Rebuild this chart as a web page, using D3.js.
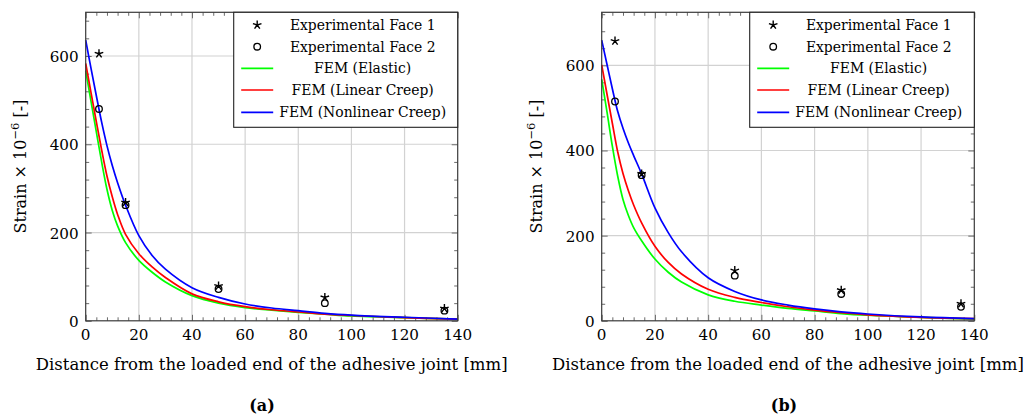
<!DOCTYPE html>
<html>
<head>
<meta charset="utf-8">
<script src="https://cdn.jsdelivr.net/npm/d3@7"></script>
<style>
  body { margin: 0; background: #fff; }
  svg { display: block; }
</style>
</head>
<body>
<div id="chart"></div>
<script>
// distance along joint [mm] for the FEM curves
var femX = [0, 2, 4, 6, 8, 10, 12, 15, 20, 25, 30, 40, 50, 60, 70, 80, 90, 100, 120, 140];

// panel (a)
var aElastic   = [567, 497, 428, 360, 298, 250, 215, 177, 137, 110, 88, 57, 40, 30, 24, 19, 15, 11, 7, 4];
var aLinear    = [583, 517, 451, 387, 328, 281, 241, 196, 152, 122, 98, 61, 43, 32, 25, 20, 15, 12, 7, 4];
var aNonlinear = [636, 572, 510, 450, 397, 352, 313, 262, 193, 148, 117, 75, 53, 38, 29, 23, 17, 13, 8, 4];

// panel (b)
var bElastic   = [567, 490, 410, 340, 285, 248, 219, 188, 145, 114, 91, 61, 46, 37, 29, 23, 17, 13, 8, 4];
var bLinear    = [601, 532, 464, 397, 346, 306, 272, 230, 175, 137, 110, 74, 55, 43, 33, 25, 19, 14, 8, 5];
var bNonlinear = [659, 602, 545, 492, 452, 418, 388, 345, 265, 207, 162, 101, 69, 49, 37, 28, 21, 16, 9, 5];

// strain gauge positions and readings
var gaugeX = [5, 15, 50, 90, 135];
var aFace1 = [605, 268, 79, 53, 28];
var aFace2 = [480, 262, 72, 40, 23];
var bFace1 = [657, 345, 118, 72, 40];
var bFace2 = [515, 342, 106, 63, 33];

var xTicks = [0, 20, 40, 60, 80, 100, 120, 140];
var yTicks = [0, 200, 400, 600];
var legendLabels = ["Experimental Face 1", "Experimental Face 2", "FEM (Elastic)", "FEM (Linear Creep)", "FEM (Nonlinear Creep)"];
var seriesColors = ["#00ff00", "#ff0000", "#0000ff"];
var xTitle = "Distance from the loaded end of the adhesive joint [mm]";

var svg = d3.select("#chart").append("svg")
    .attr("width", 1035)
    .attr("height", 419)
    .attr("font-family", "'DejaVu Serif', 'Liberation Serif', serif");

// scale a text's font size so it spans the wanted width
function fitSize(sel, size, target) {
  sel.attr("font-size", size);
  var w = sel.node().getComputedTextLength();
  return size * target / w;
}

function drawPanel(p) {
  var x = d3.scaleLinear().domain([0, 140]).range([p.left, p.right]);
  var y = d3.scaleLinear().domain([0, p.ymax]).range([p.bottom, p.top]);
  var g = svg.append("g");

  // grid
  g.append("g").selectAll("line").data(xTicks.slice(1, -1)).enter().append("line")
      .attr("x1", function(d) { return x(d); }).attr("x2", function(d) { return x(d); })
      .attr("y1", p.top).attr("y2", p.bottom)
      .attr("stroke", "#d2d2d2").attr("stroke-width", 1.2);
  g.append("g").selectAll("line").data(yTicks.slice(1)).enter().append("line")
      .attr("y1", function(d) { return y(d); }).attr("y2", function(d) { return y(d); })
      .attr("x1", p.left).attr("x2", p.right)
      .attr("stroke", "#d2d2d2").attr("stroke-width", 1.2);

  // ticks inward on all four sides
  var xMinor = d3.range(0, 141, 4).filter(function(d) { return d % 20 != 0; });
  var yMinor = d3.range(0, p.ymax, 40).filter(function(d) { return d % 200 != 0; });
  var axB = d3.axisBottom(x).tickValues(xTicks).tickSizeInner(-6).tickSizeOuter(0).tickFormat("");
  var axT = d3.axisTop(x).tickValues(xTicks).tickSizeInner(-6).tickSizeOuter(0).tickFormat("");
  var axL = d3.axisLeft(y).tickValues(yTicks).tickSizeInner(-6).tickSizeOuter(0).tickFormat("");
  var axR = d3.axisRight(y).tickValues(yTicks).tickSizeInner(-6).tickSizeOuter(0).tickFormat("");
  var mB = d3.axisBottom(x).tickValues(xMinor).tickSizeInner(-3.5).tickSizeOuter(0).tickFormat("");
  var mT = d3.axisTop(x).tickValues(xMinor).tickSizeInner(-3.5).tickSizeOuter(0).tickFormat("");
  var mL = d3.axisLeft(y).tickValues(yMinor).tickSizeInner(-3.5).tickSizeOuter(0).tickFormat("");
  var mR = d3.axisRight(y).tickValues(yMinor).tickSizeInner(-3.5).tickSizeOuter(0).tickFormat("");
  [[axB, mB, "translate(0," + p.bottom + ")"], [axT, mT, "translate(0," + p.top + ")"],
   [axL, mL, "translate(" + p.left + ",0)"], [axR, mR, "translate(" + p.right + ",0)"]].forEach(function(a) {
    [a[0], a[1]].forEach(function(ax) {
      var t = g.append("g").attr("transform", a[2]).call(ax);
      t.select(".domain").remove();
      t.selectAll("line").attr("stroke", "#6a6a6a").attr("stroke-width", 1);
    });
  });

  // tick labels
  var xl = g.append("g").selectAll("text").data(xTicks).enter().append("text")
      .attr("x", function(d) { return x(d); }).attr("y", p.bottom + 19)
      .attr("text-anchor", "middle")
      .text(function(d) { return d; });
  var yt = g.append("g").selectAll("text").data(yTicks).enter().append("text")
      .attr("x", p.left - 7).attr("y", function(d) { return y(d) + 6; })
      .attr("text-anchor", "end")
      .text(function(d) { return d; });
  var tickSize = fitSize(yt.filter(function(d) { return d == 600; }), 16, 29);
  xl.attr("font-size", tickSize);
  yt.attr("font-size", tickSize);

  // FEM curves
  var line = d3.line()
      .x(function(d, i) { return x(femX[i]); })
      .y(function(d) { return y(d); })
      .curve(d3.curveCatmullRom.alpha(0.5));
  p.fem.forEach(function(s, k) {
    g.append("path").datum(s)
        .attr("fill", "none").attr("stroke", seriesColors[k]).attr("stroke-width", 1.7)
        .attr("d", line);
  });

  // experimental marks
  g.append("g").selectAll("path").data(p.face1).enter().append("path")
      .attr("transform", function(d, i) { return "translate(" + x(gaugeX[i]) + "," + y(d) + ")"; })
      .attr("d", starPath(4.5)).attr("stroke", "#000").attr("stroke-width", 1.4).attr("fill", "none");
  g.append("g").selectAll("circle").data(p.face2).enter().append("circle")
      .attr("cx", function(d, i) { return x(gaugeX[i]); }).attr("cy", function(d) { return y(d); })
      .attr("r", 3.3).attr("fill", "none").attr("stroke", "#000").attr("stroke-width", 1.3);

  // frame
  g.append("rect").attr("x", p.left).attr("y", p.top)
      .attr("width", p.right - p.left).attr("height", p.bottom - p.top)
      .attr("fill", "none").attr("stroke", "#3a3a3a").attr("stroke-width", 1.2);

  // legend
  var lx = p.left + 148, ly = p.top, lw = p.right - lx, lh = 115;
  var lg = g.append("g");
  lg.append("rect").attr("x", lx).attr("y", ly).attr("width", lw).attr("height", lh)
      .attr("fill", "#fff").attr("stroke", "#222").attr("stroke-width", 1.1);
  var rows = [12.7, 34.4, 56, 77.7, 100];
  lg.append("path").attr("transform", "translate(" + (lx + 23.5) + "," + (ly + rows[0]) + ")")
      .attr("d", starPath(4.5)).attr("stroke", "#000").attr("stroke-width", 1.4).attr("fill", "none");
  lg.append("circle").attr("cx", lx + 23.5).attr("cy", ly + rows[1]).attr("r", 3.3)
      .attr("fill", "none").attr("stroke", "#000").attr("stroke-width", 1.3);
  seriesColors.forEach(function(c, k) {
    lg.append("line").attr("x1", lx + 7.5).attr("x2", lx + 39.5)
        .attr("y1", ly + rows[k + 2]).attr("y2", ly + rows[k + 2])
        .attr("stroke", c).attr("stroke-width", 1.7);
  });
  var labs = lg.selectAll("text.lab").data(legendLabels).enter().append("text").attr("class", "lab")
      .attr("x", lx + 129).attr("y", function(d, i) { return ly + rows[i] + 5; })
      .attr("text-anchor", "middle")
      .text(function(d) { return d; });
  var s1 = fitSize(labs.filter(function(d, i) { return i == 0; }), 15, 145);
  var s2 = fitSize(labs.filter(function(d, i) { return i == 4; }), 15, 168);
  labs.attr("font-size", (s1 + s2) / 2);

  // axis titles
  var xt = g.append("text").attr("x", (p.left + p.right) / 2).attr("y", 370)
      .attr("text-anchor", "middle").text(xTitle);
  xt.attr("font-size", fitSize(xt, 15, 472));
  var yl = g.append("text")
      .attr("transform", "translate(" + (p.left - 60) + "," + ((p.top + p.bottom) / 2) + ") rotate(-90)")
      .attr("text-anchor", "middle").attr("font-size", 16);
  yl.append("tspan").text("Strain \u00d7 10");
  yl.append("tspan").attr("dy", -7).attr("font-size", 11.5).text("\u22126");
  yl.append("tspan").attr("dy", 7).text(" [-]");

  g.append("text").attr("x", p.labelX).attr("y", 411)
      .attr("text-anchor", "middle").attr("font-size", 16).attr("font-weight", "bold")
      .text(p.label);
}

// five-armed asterisk like the pgfplots "star" mark
function starPath(r) {
  var s = "";
  for (var i = 0; i < 5; i++) {
    var a = -Math.PI / 2 + i * 2 * Math.PI / 5;
    s += "M0,0L" + (r * Math.cos(a)).toFixed(2) + "," + (r * Math.sin(a)).toFixed(2);
  }
  return s;
}

drawPanel({left: 85.7, right: 457.7, top: 12.3, bottom: 320.8, ymax: 699,
           fem: [aElastic, aLinear, aNonlinear], face1: aFace1, face2: aFace2,
           label: "(a)", labelX: 262});
drawPanel({left: 601.7, right: 974.3, top: 12.3, bottom: 320.8, ymax: 724.5,
           fem: [bElastic, bLinear, bNonlinear], face1: bFace1, face2: bFace2,
           label: "(b)", labelX: 784});
</script>
</body>
</html>
